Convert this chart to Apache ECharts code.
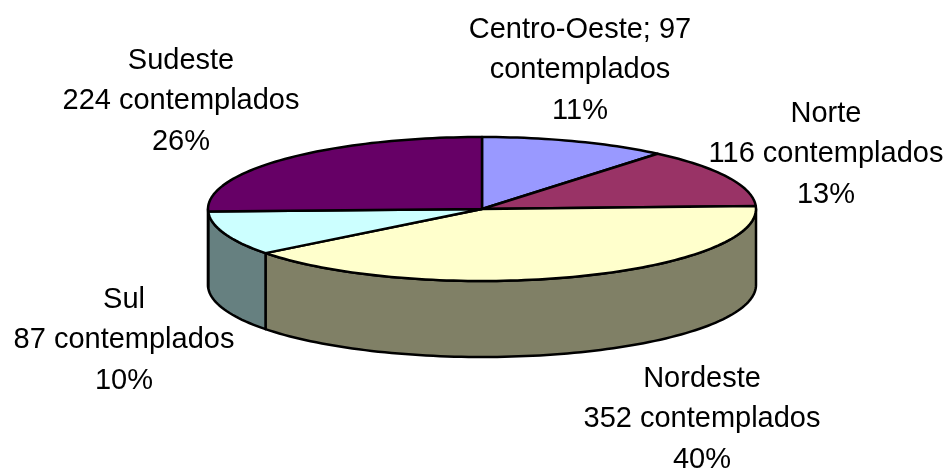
<!DOCTYPE html>
<html>
<head>
<meta charset="utf-8">
<style>html,body{margin:0;padding:0;background:#fff}#c{width:948px;height:471px}</style>
<script src="https://cdn.jsdelivr.net/npm/echarts@6/dist/echarts.min.js"></script>
</head>
<body>
<div id="c"></div>
<script>
var regions = ['Centro-Oeste', 'Norte', 'Nordeste', 'Sul', 'Sudeste'];
var values = [97, 116, 352, 87, 224];
var firstLineSeparator = ['; ', '\n', '\n', '\n', '\n'];
var secondLineBreak = ['\n', ' ', ' ', ' ', ' '];
var topColors = ['#9999FF', '#993366', '#FFFFCC', '#CCFFFF', '#660066'];
var sideColors = ['#666680', '#664060', '#808066', '#668080', '#400040'];
var labelX = [580, 826, 702, 124, 181];
var labelY = [70, 154, 419, 340, 101];

var CX = 482, CY = 209, RX = 274, RY = 72, DEPTH = 76;
var total = values.reduce(function (a, b) { return a + b; }, 0);
var starts = [];
values.reduce(function (acc, v, i) { starts[i] = acc; return acc + v; }, 0);

function pt(deg, dy) {
  var r = deg * Math.PI / 180;
  return [CX + RX * Math.sin(r), CY - RY * Math.cos(r) + (dy || 0)];
}
function arc(a0, a1, dy) {
  var n = Math.max(2, Math.ceil(Math.abs(a1 - a0) / 1.5)), out = [];
  for (var i = 0; i <= n; i++) out.push(pt(a0 + (a1 - a0) * i / n, dy));
  return out;
}
function angles(i) {
  return [starts[i] / total * 360, (starts[i] + values[i]) / total * 360];
}
var idx = regions.map(function (_, i) { return [i]; });
var lineStyle = { stroke: '#000', lineWidth: 2.5, lineJoin: 'round' };

function renderSide(params, api) {
  var i = api.value(0), a = angles(i);
  var a0 = Math.max(a[0], 90), a1 = Math.min(a[1], 270);
  if (a1 <= a0) return { type: 'group', children: [] };
  var pts = arc(a0, a1, 0).concat(arc(a1, a0, DEPTH));
  return { type: 'polygon', shape: { points: pts },
    style: Object.assign({ fill: sideColors[i] }, lineStyle) };
}
function renderTop(params, api) {
  var i = api.value(0), a = angles(i);
  var pts = [[CX, CY]].concat(arc(a[0], a[1], 0));
  return { type: 'polygon', shape: { points: pts },
    style: Object.assign({ fill: topColors[i] }, lineStyle) };
}
function renderLabel(params, api) {
  var i = api.value(0);
  var pct = Math.round(values[i] / total * 100);
  var txt = regions[i] + firstLineSeparator[i] + (secondLineBreak[i] === ' ' ? values[i] + ' contemplados' : values[i] + '\ncontemplados') + '\n' + pct + '%';
  return { type: 'text', x: labelX[i], y: labelY[i],
    style: { text: txt, fill: '#000', font: '29px "Liberation Sans", Arial, sans-serif',
      align: 'center', verticalAlign: 'middle', lineHeight: 40.5 } };
}

var chart = echarts.init(document.getElementById('c'), null, { renderer: 'canvas' });
chart.setOption({
  animation: false,
  backgroundColor: '#fff',
  series: [
    { type: 'custom', coordinateSystem: 'none', data: idx, renderItem: renderSide, z: 1, silent: true },
    { type: 'custom', coordinateSystem: 'none', data: idx, renderItem: renderTop, z: 2, silent: true },
    { type: 'custom', coordinateSystem: 'none', data: idx, renderItem: renderLabel, z: 3, silent: true }
  ]
});
</script>
</body>
</html>
